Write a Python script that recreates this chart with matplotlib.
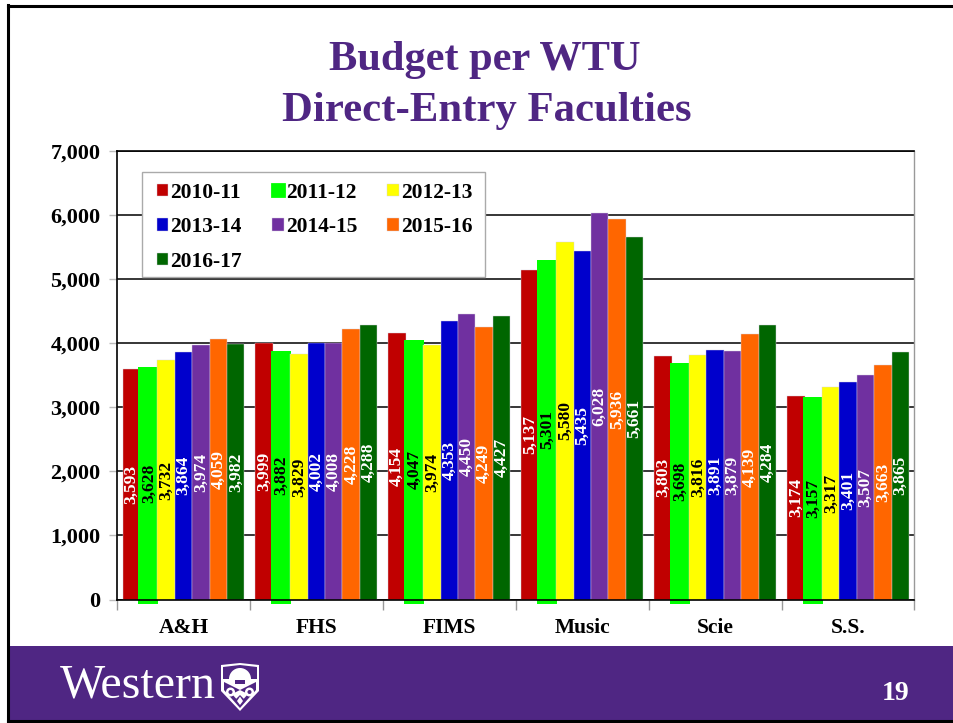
"""
Budget per WTU slide, bars per faculty for each year.
"""

import matplotlib.pyplot as plt
import numpy as np

from matplotlib.patches import Circle, Polygon, Rectangle, Wedge

faculties = ["A&H", "FHS", "FIMS", "Music", "Scie", "S.S."]
years = ["2010-11", "2011-12", "2012-13", "2013-14", "2014-15", "2015-16", "2016-17"]

values_2010 = [3593, 3999, 4154, 5137, 3803, 3174]
values_2011 = [3628, 3882, 4047, 5301, 3698, 3157]
values_2012 = [3732, 3829, 3974, 5580, 3816, 3317]
values_2013 = [3864, 4002, 4353, 5435, 3891, 3401]
values_2014 = [3974, 4008, 4450, 6028, 3879, 3507]
values_2015 = [4059, 4228, 4249, 5936, 4139, 3663]
values_2016 = [3982, 4288, 4427, 5661, 4284, 3865]

colors = ["#C00000", "#00FF00", "#FFFF00", "#0000CC", "#7030A0", "#FF6600", "#006600"]
label_colors = ["white", "black", "black", "white", "white", "white", "white"]

PURPLE = "#4F2683"
W, H = 954, 723


def draw_shield(bg):
    # Rough version of the crest next to the wordmark
    bg.add_patch(Polygon([(221, 665), (240, 663), (259, 665), (259, 691), (240, 711), (221, 691)],
                         closed=True, fc="white", ec="none"))
    bg.add_patch(Polygon([(223, 667), (240, 665), (257, 667), (257, 679), (223, 679)],
                         closed=True, fc=PURPLE, ec="none"))
    bg.add_patch(Wedge((240, 679), 11, 180, 360, fc="white", ec="none", transform=bg.transData))
    bg.add_patch(Rectangle((235, 680), 10, 3.5, fc=PURPLE, ec="none"))
    bg.add_patch(Polygon([(240, 690), (256, 682), (256, 690), (240, 708), (224, 690), (224, 682)],
                         closed=True, fc=PURPLE, ec="none"))
    bg.add_patch(Polygon([(240, 690), (248, 694), (240, 703), (232, 694)],
                         closed=True, fc="white", ec="none"))
    bg.add_patch(Polygon([(240, 695), (244, 699), (240, 707), (236, 699)],
                         closed=True, fc=PURPLE, ec="none"))
    for cx in (230.5, 249.5):
        bg.add_patch(Circle((cx, 692), 4.5, fc="white", ec="none"))
        bg.add_patch(Circle((cx, 692), 2, fc=PURPLE, ec="none"))
    bg.add_patch(Polygon([(240, 696.5), (243, 701), (240, 705), (237, 701)],
                         closed=True, fc="white", ec="none"))


def main():
    plt.rcParams["font.family"] = ["Liberation Serif", "DejaVu Serif"]
    plt.rcParams["font.weight"] = "bold"

    series = [values_2010, values_2011, values_2012, values_2013,
              values_2014, values_2015, values_2016]

    fig = plt.figure(figsize=(W / 100, H / 100), dpi=100)

    # Overlay in pixel coordinates for the slide furniture
    bg = fig.add_axes([0, 0, 1, 1], zorder=0)
    bg.set_xlim(0, W)
    bg.set_ylim(H, 0)
    bg.axis("off")
    bg.add_patch(Rectangle((8, 646), W - 8, 74, color=PURPLE, lw=0))
    bg.plot([8, 8], [5, 721], color="black", lw=2.2)
    bg.plot([8, W], [6, 6], color="black", lw=2.2)
    bg.plot([8, W], [721, 721], color="black", lw=2.2)

    bg.text(485, 60, "Budget per WTU", color=PURPLE, fontsize=30.5, ha="center", va="center")
    bg.text(487, 111, "Direct-Entry Faculties", color=PURPLE, fontsize=30.8, ha="center", va="center")
    bg.text(60, 686, "Western", color="white", fontsize=34.5, weight="normal", ha="left", va="center")
    bg.text(896, 693, "19", color="white", fontsize=20, ha="center", va="center")
    draw_shield(bg)

    ax = fig.add_axes([117 / W, 1 - 599.5 / H, (914.5 - 117) / W, (599.5 - 151) / H], zorder=1)
    ax.patch.set_alpha(0)

    x = np.arange(len(faculties))
    bar_w = 0.131
    for i, vals in enumerate(series):
        pos = x + (i - 3) * bar_w
        vals = np.array(vals)
        if i == 1:
            # the green bars are wider and poke out below the axis
            ax.bar(pos - 0.005, vals + 70, bottom=-70, width=bar_w * 1.15, color=colors[i],
                   label=years[i], zorder=3 + i * 0.1, clip_on=False)
        else:
            ax.bar(pos, vals, width=bar_w, color=colors[i], label=years[i],
                   edgecolor="#D8D0E0", linewidth=0.3, zorder=3 + i * 0.1)
        for p, v in zip(pos, vals):
            ax.text(p, v / 2, f"{v:,}", rotation=90, ha="center", va="center",
                    color=label_colors[i], fontsize=12.5, zorder=5)

    ax.set_xlim(-0.5, 5.5)
    ax.set_ylim(0, 7000)
    ax.set_yticks(range(0, 7001, 1000))
    ax.set_yticklabels([f"{v:,}" for v in range(0, 7001, 1000)], fontsize=16)
    ax.yaxis.grid(True, color="black", lw=1.1, zorder=1)
    ax.set_axisbelow(True)

    # Category ticks sit between the groups
    ax.set_xticks(np.arange(-0.5, 6, 1))
    ax.set_xticklabels([])
    ax.set_xticks(x, faculties, minor=True, fontsize=15.5)
    ax.tick_params(axis="x", which="minor", length=0, pad=13)
    ax.tick_params(axis="x", which="major", length=7, color="#999999", width=1)
    ax.tick_params(axis="y", length=6, color="#BBBBBB", width=1, pad=6)

    for side in ["left", "top", "bottom"]:
        ax.spines[side].set_linewidth(1.2)
        ax.spines[side].set_zorder(6)
    ax.spines["right"].set_color("#999999")
    ax.spines["right"].set_linewidth(1)

    # Legend box is wider than it is tall padded, so the frame is its own patch
    ax.add_patch(Rectangle((141.7, 171.7), 343.3, 105, transform=bg.transData, fc="white",
                           ec="#AAAAAA", lw=1, zorder=9))

    # matplotlib fills columns first, so reorder to read across the rows
    handles, labels = ax.get_legend_handles_labels()
    order = [0, 3, 6, 1, 4, 2, 5]
    leg = ax.legend([handles[i] for i in order], [labels[i] for i in order], ncol=3,
                    loc="upper left", bbox_to_anchor=(157 / W, 1 - 182.5 / H),
                    bbox_transform=fig.transFigure, borderaxespad=0, borderpad=0,
                    frameon=False, fontsize=15.5, handlelength=0.53, handleheight=0.53,
                    handletextpad=0.1, columnspacing=1.4, labelspacing=0.68)
    leg.set_zorder(10)
    green = leg.legend_handles[3]
    green.set_edgecolor(colors[1])
    green.set_linewidth(2)

    plt.savefig("out.png", dpi=100)


if __name__ == "__main__":
    main()
